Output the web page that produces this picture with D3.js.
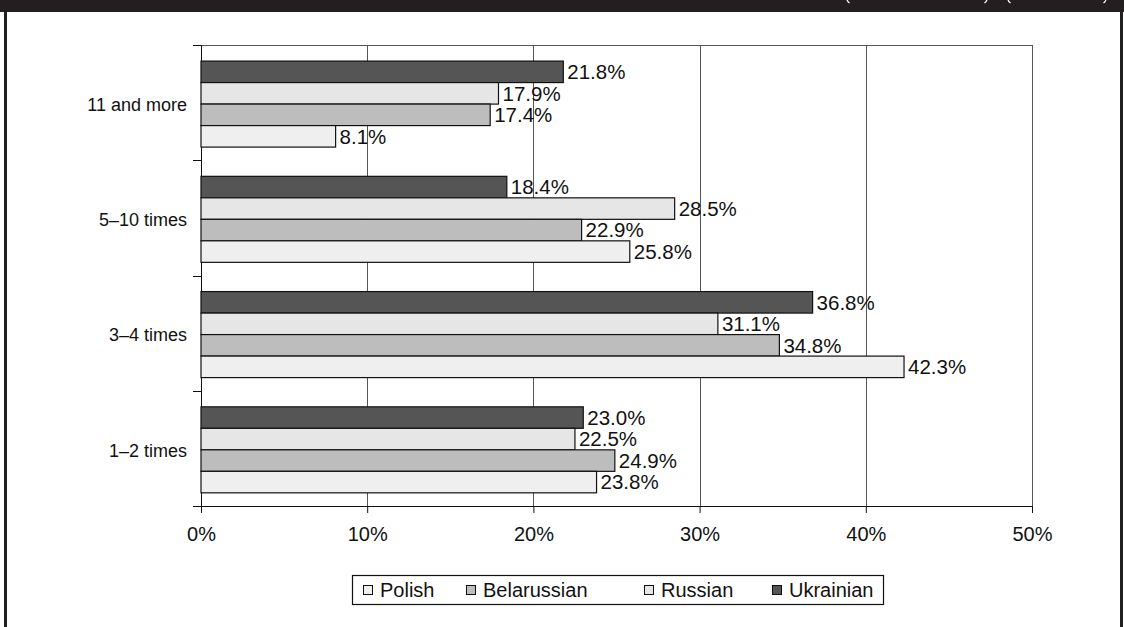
<!DOCTYPE html>
<html>
<head>
<meta charset="utf-8">
<script src="https://cdn.jsdelivr.net/npm/d3@7"></script>
<style>
html,body{margin:0;padding:0;background:#fff;}
svg{display:block;}
text{font-family:"Liberation Sans",Arial,Helvetica,sans-serif;fill:#111;}
</style>
</head>
<body>
<svg id="chart" width="1124" height="627"></svg>
<script>
const categories = ["11 and more", "5\u201310 times", "3\u20134 times", "1\u20132 times"];
const seriesNames = ["Ukrainian", "Russian", "Belarussian", "Polish"];
const ukrainian   = [21.8, 18.4, 36.8, 23.0];
const russian     = [17.9, 28.5, 31.1, 22.5];
const belarussian = [17.4, 22.9, 34.8, 24.9];
const polish      = [8.1, 25.8, 42.3, 23.8];
const xTicks = [0, 10, 20, 30, 40, 50];
const legendOrder = ["Polish", "Belarussian", "Russian", "Ukrainian"];
const colors = {Ukrainian:"#555555", Russian:"#e6e6e6", Belarussian:"#bdbdbd", Polish:"#efefef"};
const valuesBySeries = {Ukrainian:ukrainian, Russian:russian, Belarussian:belarussian, Polish:polish};

(function(){
const svg = d3.select("#chart");
const W = 1124, H = 627;
const FS = 20, FV = 20.5, FC = 18;

// frame
svg.append("rect").attr("x",0).attr("y",0).attr("width",W).attr("height",12).attr("fill","#231f20");
svg.append("rect").attr("x",4).attr("y",12).attr("width",3).attr("height",H-12).attr("fill","#231f20");
svg.append("rect").attr("x",1120).attr("y",12).attr("width",3).attr("height",H-12).attr("fill","#231f20");
// remnants of a title cut off by the top edge
[[848,1],[986,-1],[1009,1],[1105,-1]].forEach(([px,dir])=>{
  svg.append("path").attr("d",`M${px+dir*-1},0 Q${px},2 ${px+dir*1.5},3`)
    .attr("fill","none").attr("stroke","#fff").attr("stroke-width",1.3);
});

const pL = 201, pR = 1032, pT = 45, pB = 506;
const x = d3.scaleLinear().domain([0,50]).range([pL,pR]);
const y0 = d3.scaleBand().domain(categories).range([pT,pB]).paddingInner(0).paddingOuter(0);
const y1 = d3.scaleBand().domain(seriesNames).range([0,y0.bandwidth()]).paddingOuter(0.68).paddingInner(0).align(0.55);

// gridlines
svg.append("g").selectAll("line").data(xTicks.filter(d=>d>0)).join("line")
  .attr("x1",d=>Math.round(x(d))+0.5).attr("x2",d=>Math.round(x(d))+0.5).attr("y1",pT).attr("y2",pB)
  .attr("stroke","#555").attr("stroke-width",1);
svg.append("line").attr("x1",pL).attr("x2",pR).attr("y1",pT+0.5).attr("y2",pT+0.5)
  .attr("stroke","#555").attr("stroke-width",1);

// x axis
const xAxis = d3.axisBottom(x).tickValues(xTicks).tickFormat(d=>d+"%").tickSize(7).tickPadding(14);
const gx = svg.append("g").attr("transform",`translate(0,${pB})`).call(xAxis);
gx.select(".domain").attr("stroke","#111").attr("d",`M${pL},0.5H${pR}`);
gx.selectAll(".tick line").attr("stroke","#111");
gx.selectAll("text").attr("font-size",FS).style("fill","#111").attr("font-family","Liberation Sans, Arial, sans-serif");

// y axis: boundary ticks
const bounds = categories.map(c=>y0(c)).concat([pB]);
svg.append("g").selectAll("line").data(bounds).join("line")
  .attr("x1",pL-8).attr("x2",pL).attr("y1",d=>Math.round(d)+0.5).attr("y2",d=>Math.round(d)+0.5)
  .attr("stroke","#111");
svg.append("line").attr("x1",pL+0.5).attr("x2",pL+0.5).attr("y1",pT).attr("y2",pB+7).attr("stroke","#111");

// category labels
svg.append("g").selectAll("text").data(categories).join("text")
  .attr("x",187).attr("y",d=>y0(d)+y0.bandwidth()/2+2).attr("dy","0.35em")
  .attr("text-anchor","end").attr("font-size",FC).text(d=>d);

// bars
const data = [];
categories.forEach((c,i)=>seriesNames.forEach(s=>data.push({c,s,v:valuesBySeries[s][i]})));
const g = svg.append("g");
g.selectAll("rect").data(data).join("rect")
  .attr("x",pL).attr("y",d=>y0(d.c)+y1(d.s))
  .attr("width",d=>x(d.v)-pL).attr("height",y1.bandwidth())
  .attr("fill",d=>colors[d.s]).attr("stroke","#111").attr("stroke-width",1.2);
g.selectAll("text").data(data).join("text")
  .attr("x",d=>x(d.v)+4).attr("y",d=>y0(d.c)+y1(d.s)+y1.bandwidth()/2).attr("dy","0.36em")
  .attr("font-size",FV).text(d=>d.v.toFixed(1)+"%");

// legend
const lg = svg.append("g");
lg.append("rect").attr("x",352.5).attr("y",575.5).attr("width",531).attr("height",29)
  .attr("fill","#fff").attr("stroke","#111").attr("stroke-width",1.2);
const legX = {Polish:363, Belarussian:466, Russian:644, Ukrainian:772};
legendOrder.forEach(s=>{
  lg.append("rect").attr("x",legX[s]+0.5).attr("y",585.5).attr("width",9).attr("height",9)
    .attr("fill",colors[s]).attr("stroke","#111").attr("stroke-width",1);
  lg.append("text").attr("x",legX[s]+17).attr("y",590).attr("dy","0.36em").attr("font-size",FS).text(s);
});
})();
</script>
</body>
</html>
